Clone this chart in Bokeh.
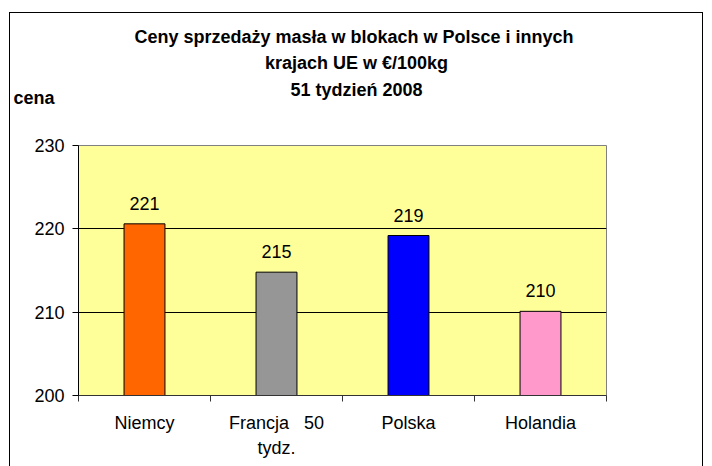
from bokeh.plotting import figure
from bokeh.layouts import column
from bokeh.models import Range1d, FixedTicker, Label, ColumnDataSource
from bokeh.embed import file_html
from bokeh.resources import INLINE
from bokeh.core.properties import value

countries = ["Niemcy", "Francja 50 tydz.", "Polska", "Holandia"]
country_labels = ["Niemcy", "Francja\u00a0\u00a0\u00a050\ntydz.", "Polska", "Holandia"]
prices = [220.6, 214.8, 219.2, 210.1]
price_labels = ["221", "215", "219", "210"]
colors = ["#FF6600", "#969696", "#0000FF", "#FF99CC"]
y_ticks = [200, 210, 220, 230]
title_lines = [
    "Ceny sprzedaży masła w blokach w Polsce i  innych",
    "krajach UE w €/100kg",
    "51 tydzień 2008",
]
y_title = "cena"

FONT = "Liberation Sans"
W = 692

# ---------- header (title + y title) ----------
HEADER_H = 122
head = figure(width=W, height=HEADER_H, x_range=Range1d(0, W), y_range=Range1d(HEADER_H, 0),
              output_backend="svg", toolbar_location=None,
              x_axis_location=None, y_axis_location=None,
              min_border_left=0, min_border_right=0, min_border_top=0, min_border_bottom=0)
head.frame_align = False
head.grid.visible = False
head.outline_line_color = None
head.background_fill_color = "white"
head.border_fill_color = "white"
for i, line in enumerate(title_lines):
    head.add_layout(Label(x=W / 2, y=23 + i * 26.5, text=line, text_align="center",
                          text_baseline="alphabetic", text_font=FONT,
                          text_font_size="18px", text_font_style="bold", text_color="black"))
head.add_layout(Label(x=3, y=84, text=y_title, text_align="left", text_baseline="alphabetic",
                      text_font=FONT, text_font_size="18px", text_font_style="bold",
                      text_color="black"))

# ---------- chart ----------
n = len(countries)
centers = [i + 0.5 for i in range(n)]
bounds = list(range(n + 1))

src = ColumnDataSource(dict(x=centers, top=prices, label=price_labels, color=colors))

p = figure(width=W, height=331,
           x_range=Range1d(0, n), y_range=Range1d(y_ticks[0], y_ticks[-1]),
           output_backend="svg", toolbar_location=None,
           min_border_left=68, min_border_right=96,
           min_border_top=10, min_border_bottom=71)
p.frame_align = False

p.background_fill_color = "#FFFF99"
p.border_fill_color = "white"
p.outline_line_color = "#808080"
p.outline_line_width = 1

p.vbar(x="x", top="top", bottom=y_ticks[0], width=0.31, fill_color="color",
       line_color="black", line_width=1, source=src)
p.text(x="x", y="top", text="label", text_align="center", text_baseline="bottom",
       y_offset=-14, text_font=value(FONT), text_font_size="18px",
       text_color="black", source=src)

p.xaxis.ticker = FixedTicker(ticks=centers, minor_ticks=bounds)
p.xaxis.major_label_overrides = {c: l for c, l in zip(centers, country_labels)}
p.xaxis.major_tick_out = 0
p.xaxis.major_tick_in = 0
p.xaxis.minor_tick_out = 6
p.xaxis.minor_tick_in = 0
p.xaxis.minor_tick_line_color = "#333333"
p.xaxis.axis_line_color = "#333333"
p.xaxis.major_label_text_font = FONT
p.xaxis.major_label_text_font_size = "18px"
p.xaxis.major_label_text_color = "black"
p.xaxis.major_label_text_line_height = 1.25
p.xaxis.major_label_standoff = 11

p.yaxis.ticker = FixedTicker(ticks=y_ticks, minor_ticks=[])
p.yaxis.major_tick_out = 6
p.yaxis.major_tick_in = 0
p.yaxis.minor_tick_out = 0
p.yaxis.axis_line_color = "black"
p.yaxis.major_tick_line_color = "black"
p.yaxis.major_label_text_font = FONT
p.yaxis.major_label_text_font_size = "18px"
p.yaxis.major_label_text_color = "black"
p.yaxis.major_label_standoff = 8

p.xgrid.grid_line_color = None
p.ygrid.ticker = FixedTicker(ticks=y_ticks[1:-1])
p.ygrid.grid_line_color = "black"
p.ygrid.grid_line_width = 1

layout = column(head, p, spacing=0,
                styles={"border": "1px solid black", "border-bottom": "none",
                        "margin-left": "9px", "margin-top": "12px"})

open("out.html", "w").write(file_html(layout, INLINE))
